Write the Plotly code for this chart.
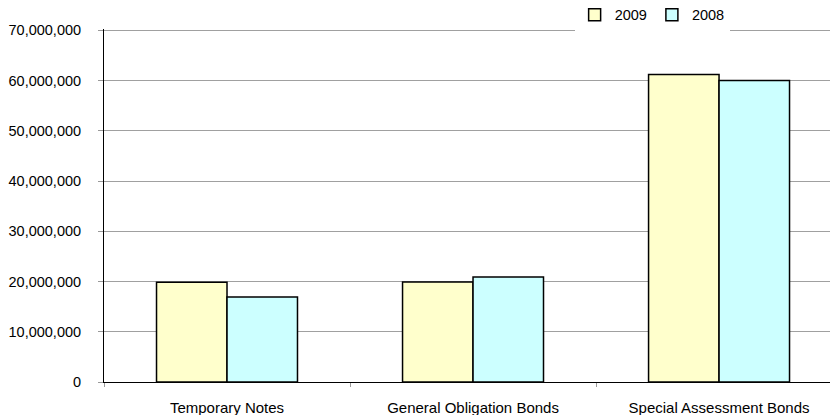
import plotly.graph_objects as go

categories = ["Temporary Notes", "General Obligation Bonds", "Special Assessment Bonds"]
values_2009 = [19850000, 19900000, 61200000]
values_2008 = [16900000, 20900000, 60000000]
series_names = ["2009", "2008"]
y_ticks = [0, 10000000, 20000000, 30000000, 40000000, 50000000, 60000000, 70000000]

FONT = "Liberation Sans, Arial, sans-serif"

fig = go.Figure()
fig.add_trace(go.Bar(x=categories, y=values_2009, name=series_names[0],
                     marker=dict(color="#FFFFCC", line=dict(color="black", width=1.5))))
fig.add_trace(go.Bar(x=categories, y=values_2008, name=series_names[1],
                     marker=dict(color="#CCFFFF", line=dict(color="black", width=1.5))))

fig.update_layout(
    width=830, height=415,
    margin=dict(l=104, r=0, t=29, b=33, autoexpand=False),
    paper_bgcolor="white", plot_bgcolor="white",
    font=dict(family=FONT, size=14, color="black"),
    barmode="group", bargap=0.427, bargroupgap=0,
    showlegend=True,
    legend=dict(orientation="h", x=0.755, xanchor="center", y=1.04, yanchor="middle",
                bgcolor="white", borderwidth=0, font=dict(size=14.5),
                itemwidth=30, traceorder="normal"),
    xaxis=dict(range=[-0.5, 2.451], showline=True, linecolor="black", linewidth=1,
               ticks="outside", tickson="boundaries", ticklen=4, tickcolor="#999999",
               showgrid=False, ticklabelstandoff=12, automargin=False,
               tickfont=dict(size=15)),
    yaxis=dict(range=[0, 70250000], tickvals=y_ticks, tickformat=",",
               showline=True, linecolor="black", linewidth=1,
               ticks="outside", ticklen=5, tickcolor="#999999",
               showgrid=True, gridcolor="#A0A0A0", gridwidth=1,
               zeroline=False, ticklabelstandoff=14, automargin=False,
               tickfont=dict(size=14.5)),
)

fig.write_html("out.html", config={"displayModeBar": False},
               post_script="document.body.style.margin='0';")
